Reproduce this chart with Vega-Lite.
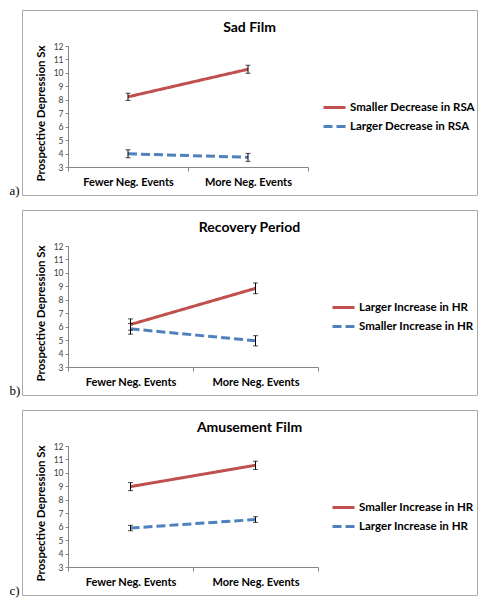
{
  "$schema": "https://vega.github.io/schema/vega-lite/v6.json",
  "padding": {"left": 8, "top": 9, "right": 0, "bottom": 0},
  "spacing": 15,
  "bounds": "flush",
  "config": {
    "font": "Lato",
    "view": {"stroke": "#aaaaaa", "strokeWidth": 1},
    "axis": {"grid": false, "domainColor": "#868686", "tickColor": "#868686"},
    "axisX": {"offset": -28, "tickBand": "extent", "tickSize": 4, "labelAngle": 0, "labelFontSize": 11, "labelFontWeight": "bold", "labelColor": "black", "labelPadding": 5, "titleFont": "Liberation Serif", "titleFontWeight": "normal", "titleFontSize": 13, "titleColor": "black", "titleX": -13, "titleY": 27, "titleAlign": "left", "titleBaseline": "alphabetic"},
    "axisY": {"offset": -46, "tickSize": 3, "labelFontSize": 8.5, "labelColor": "#404040", "labelPadding": 2, "labelOverlap": false, "titleFontSize": 11.5, "titleFontWeight": "bold", "titleColor": "black", "titlePadding": 7, "titleY": 103},
    "title": {"fontSize": 14, "fontWeight": "bold", "color": "black", "offset": -25, "anchor": "middle", "frame": "group"}
  },
  "resolve": {"scale": {"color": "independent", "strokeDash": "independent"}, "legend": {"color": "independent", "strokeDash": "independent"}},
  "vconcat": [
    {
      "width": 455, "height": 185,
      "title": "Sad Film",
      "data": {"values": [
        {"cond": "Fewer Neg. Events", "series": "Smaller Decrease in RSA", "value": 8.22, "lo": 7.95, "hi": 8.49},
        {"cond": "More Neg. Events", "series": "Smaller Decrease in RSA", "value": 10.27, "lo": 9.97, "hi": 10.57},
        {"cond": "Fewer Neg. Events", "series": "Larger Decrease in RSA", "value": 3.98, "lo": 3.69, "hi": 4.28},
        {"cond": "More Neg. Events", "series": "Larger Decrease in RSA", "value": 3.72, "lo": 3.42, "hi": 4.01}
      ]},
      "encoding": {
        "x": {"field": "cond", "type": "nominal", "sort": ["Fewer Neg. Events", "More Neg. Events"], "scale": {"type": "band", "range": [46, 286], "paddingInner": 0, "paddingOuter": 0}, "axis": {"title": "a)"}}
      },
      "layer": [
        {
          "mark": {"type": "line", "strokeWidth": 3},
          "encoding": {
            "y": {"field": "value", "type": "quantitative", "scale": {"domain": [3, 12], "range": [157, 36], "nice": false, "zero": false}, "axis": {"title": "Prospective Depression Sx", "values": [3, 4, 5, 6, 7, 8, 9, 10, 11, 12]}},
            "color": {"field": "series", "type": "nominal", "scale": {"domain": ["Smaller Decrease in RSA", "Larger Decrease in RSA"], "range": ["#C0504D", "#4F81BD"]}, "legend": {"orient": "none", "legendX": 300, "legendY": 85, "title": null, "symbolType": "stroke", "symbolSize": 484, "symbolStrokeWidth": 3, "labelFontSize": 11.5, "labelFontWeight": "bold", "labelColor": "black", "labelOffset": 3, "rowPadding": -2, "padding": 0}},
            "strokeDash": {"field": "series", "type": "nominal", "scale": {"domain": ["Smaller Decrease in RSA", "Larger Decrease in RSA"], "range": [[1, 0], [9, 4]]}, "legend": {"orient": "none", "legendX": 300, "legendY": 85, "title": null, "symbolType": "stroke", "symbolSize": 484, "symbolStrokeWidth": 3, "labelFontSize": 11.5, "labelFontWeight": "bold", "labelColor": "black", "labelOffset": 3, "rowPadding": -2, "padding": 0}}
          }
        },
        {
          "mark": {"type": "rule", "color": "black", "strokeWidth": 1},
          "encoding": {
            "y": {"field": "lo", "type": "quantitative", "scale": {"domain": [3, 12], "range": [157, 36], "nice": false, "zero": false}, "axis": {"title": "Prospective Depression Sx", "values": [3, 4, 5, 6, 7, 8, 9, 10, 11, 12]}},
            "y2": {"field": "hi"}
          }
        },
        {
          "mark": {"type": "tick", "color": "black", "size": 5, "thickness": 1},
          "encoding": {"y": {"field": "lo", "type": "quantitative", "scale": {"domain": [3, 12], "range": [157, 36], "nice": false, "zero": false}, "axis": {"title": "Prospective Depression Sx", "values": [3, 4, 5, 6, 7, 8, 9, 10, 11, 12]}}}
        },
        {
          "mark": {"type": "tick", "color": "black", "size": 5, "thickness": 1},
          "encoding": {"y": {"field": "hi", "type": "quantitative", "scale": {"domain": [3, 12], "range": [157, 36], "nice": false, "zero": false}, "axis": {"title": "Prospective Depression Sx", "values": [3, 4, 5, 6, 7, 8, 9, 10, 11, 12]}}}
        }
      ]
    },
    {
      "width": 455, "height": 185,
      "title": "Recovery Period",
      "data": {"values": [
        {"cond": "Fewer Neg. Events", "series": "Larger Increase in HR", "value": 6.16, "lo": 5.74, "hi": 6.58},
        {"cond": "More Neg. Events", "series": "Larger Increase in HR", "value": 8.85, "lo": 8.45, "hi": 9.25},
        {"cond": "Fewer Neg. Events", "series": "Smaller Increase in HR", "value": 5.84, "lo": 5.44, "hi": 6.24},
        {"cond": "More Neg. Events", "series": "Smaller Increase in HR", "value": 4.95, "lo": 4.57, "hi": 5.33}
      ]},
      "encoding": {
        "x": {"field": "cond", "type": "nominal", "sort": ["Fewer Neg. Events", "More Neg. Events"], "scale": {"type": "band", "range": [46, 296], "paddingInner": 0, "paddingOuter": 0}, "axis": {"title": "b)"}}
      },
      "layer": [
        {
          "mark": {"type": "line", "strokeWidth": 3},
          "encoding": {
            "y": {"field": "value", "type": "quantitative", "scale": {"domain": [3, 12], "range": [157, 36], "nice": false, "zero": false}, "axis": {"title": "Prospective Depression Sx", "values": [3, 4, 5, 6, 7, 8, 9, 10, 11, 12]}},
            "color": {"field": "series", "type": "nominal", "scale": {"domain": ["Larger Increase in HR", "Smaller Increase in HR"], "range": ["#C0504D", "#4F81BD"]}, "legend": {"orient": "none", "legendX": 309, "legendY": 85, "title": null, "symbolType": "stroke", "symbolSize": 484, "symbolStrokeWidth": 3, "labelFontSize": 11.5, "labelFontWeight": "bold", "labelColor": "black", "labelOffset": 3, "rowPadding": -2, "padding": 0}},
            "strokeDash": {"field": "series", "type": "nominal", "scale": {"domain": ["Larger Increase in HR", "Smaller Increase in HR"], "range": [[1, 0], [9, 4]]}, "legend": {"orient": "none", "legendX": 309, "legendY": 85, "title": null, "symbolType": "stroke", "symbolSize": 484, "symbolStrokeWidth": 3, "labelFontSize": 11.5, "labelFontWeight": "bold", "labelColor": "black", "labelOffset": 3, "rowPadding": -2, "padding": 0}}
          }
        },
        {
          "mark": {"type": "rule", "color": "black", "strokeWidth": 1},
          "encoding": {
            "y": {"field": "lo", "type": "quantitative", "scale": {"domain": [3, 12], "range": [157, 36], "nice": false, "zero": false}, "axis": {"title": "Prospective Depression Sx", "values": [3, 4, 5, 6, 7, 8, 9, 10, 11, 12]}},
            "y2": {"field": "hi"}
          }
        },
        {
          "mark": {"type": "tick", "color": "black", "size": 5, "thickness": 1},
          "encoding": {"y": {"field": "lo", "type": "quantitative", "scale": {"domain": [3, 12], "range": [157, 36], "nice": false, "zero": false}, "axis": {"title": "Prospective Depression Sx", "values": [3, 4, 5, 6, 7, 8, 9, 10, 11, 12]}}}
        },
        {
          "mark": {"type": "tick", "color": "black", "size": 5, "thickness": 1},
          "encoding": {"y": {"field": "hi", "type": "quantitative", "scale": {"domain": [3, 12], "range": [157, 36], "nice": false, "zero": false}, "axis": {"title": "Prospective Depression Sx", "values": [3, 4, 5, 6, 7, 8, 9, 10, 11, 12]}}}
        }
      ]
    },
    {
      "width": 455, "height": 185,
      "title": "Amusement Film",
      "data": {"values": [
        {"cond": "Fewer Neg. Events", "series": "Smaller Increase in HR", "value": 8.98, "lo": 8.68, "hi": 9.28},
        {"cond": "More Neg. Events", "series": "Smaller Increase in HR", "value": 10.57, "lo": 10.25, "hi": 10.87},
        {"cond": "Fewer Neg. Events", "series": "Larger Increase in HR", "value": 5.9, "lo": 5.7, "hi": 6.1},
        {"cond": "More Neg. Events", "series": "Larger Increase in HR", "value": 6.53, "lo": 6.32, "hi": 6.74}
      ]},
      "encoding": {
        "x": {"field": "cond", "type": "nominal", "sort": ["Fewer Neg. Events", "More Neg. Events"], "scale": {"type": "band", "range": [46, 296], "paddingInner": 0, "paddingOuter": 0}, "axis": {"title": "c)"}}
      },
      "layer": [
        {
          "mark": {"type": "line", "strokeWidth": 3},
          "encoding": {
            "y": {"field": "value", "type": "quantitative", "scale": {"domain": [3, 12], "range": [157, 36], "nice": false, "zero": false}, "axis": {"title": "Prospective Depression Sx", "values": [3, 4, 5, 6, 7, 8, 9, 10, 11, 12]}},
            "color": {"field": "series", "type": "nominal", "scale": {"domain": ["Smaller Increase in HR", "Larger Increase in HR"], "range": ["#C0504D", "#4F81BD"]}, "legend": {"orient": "none", "legendX": 309, "legendY": 85, "title": null, "symbolType": "stroke", "symbolSize": 484, "symbolStrokeWidth": 3, "labelFontSize": 11.5, "labelFontWeight": "bold", "labelColor": "black", "labelOffset": 3, "rowPadding": -2, "padding": 0}},
            "strokeDash": {"field": "series", "type": "nominal", "scale": {"domain": ["Smaller Increase in HR", "Larger Increase in HR"], "range": [[1, 0], [9, 4]]}, "legend": {"orient": "none", "legendX": 309, "legendY": 85, "title": null, "symbolType": "stroke", "symbolSize": 484, "symbolStrokeWidth": 3, "labelFontSize": 11.5, "labelFontWeight": "bold", "labelColor": "black", "labelOffset": 3, "rowPadding": -2, "padding": 0}}
          }
        },
        {
          "mark": {"type": "rule", "color": "black", "strokeWidth": 1},
          "encoding": {
            "y": {"field": "lo", "type": "quantitative", "scale": {"domain": [3, 12], "range": [157, 36], "nice": false, "zero": false}, "axis": {"title": "Prospective Depression Sx", "values": [3, 4, 5, 6, 7, 8, 9, 10, 11, 12]}},
            "y2": {"field": "hi"}
          }
        },
        {
          "mark": {"type": "tick", "color": "black", "size": 5, "thickness": 1},
          "encoding": {"y": {"field": "lo", "type": "quantitative", "scale": {"domain": [3, 12], "range": [157, 36], "nice": false, "zero": false}, "axis": {"title": "Prospective Depression Sx", "values": [3, 4, 5, 6, 7, 8, 9, 10, 11, 12]}}}
        },
        {
          "mark": {"type": "tick", "color": "black", "size": 5, "thickness": 1},
          "encoding": {"y": {"field": "hi", "type": "quantitative", "scale": {"domain": [3, 12], "range": [157, 36], "nice": false, "zero": false}, "axis": {"title": "Prospective Depression Sx", "values": [3, 4, 5, 6, 7, 8, 9, 10, 11, 12]}}}
        }
      ]
    }
  ]
}
